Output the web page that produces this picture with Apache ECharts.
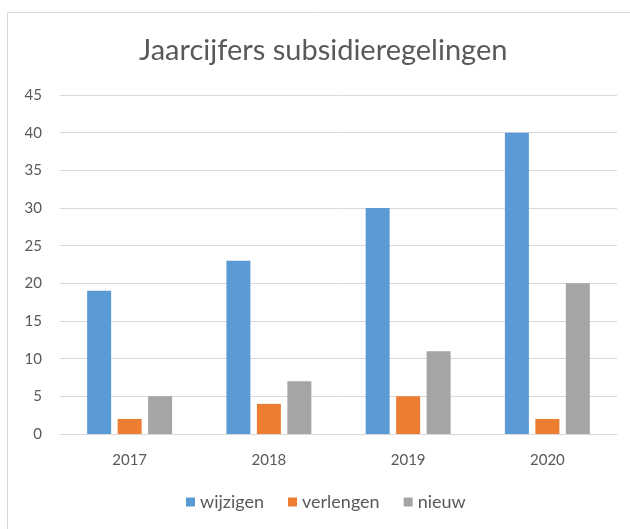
<!DOCTYPE html>
<html>
<head>
<meta charset="utf-8">
<script src="https://cdn.jsdelivr.net/npm/echarts@6/dist/echarts.min.js"></script>
<style>
  html, body { margin: 0; padding: 0; background: #fff; }
  #chart { width: 630px; height: 529px; }
</style>
</head>
<body>
<div id="chart"></div>
<script>
var years = ['2017', '2018', '2019', '2020'];
var wijzigen = [19, 23, 30, 40];
var verlengen = [2, 4, 5, 2];
var nieuw = [5, 7, 11, 20];
var seriesNames = ['wijzigen', 'verlengen', 'nieuw'];
var colors = ['#5b9bd5', '#ed7d31', '#a5a5a5'];

var chart = echarts.init(document.getElementById('chart'));
var textFont = 'Lato, sans-serif';

var option = {
  animation: false,
  color: colors,
  graphic: [{
    type: 'rect',
    shape: { x: 7.5, y: 12.5, width: 640, height: 540 },
    style: { fill: 'none', stroke: '#d9d9d9', lineWidth: 1 },
    z: -1
  }],
  title: {
    text: 'Jaarcijfers subsidieregelingen',
    left: 134,
    top: 31,
    textStyle: {
      fontFamily: textFont,
      fontWeight: 'normal',
      fontSize: 29,
      color: '#595959'
    }
  },
  legend: {
    data: seriesNames,
    bottom: 13,
    left: 181,
    itemWidth: 9,
    itemHeight: 9,
    itemGap: 24,
    icon: 'rect',
    textStyle: { fontFamily: textFont, fontSize: 18, color: '#595959' }
  },
  grid: { left: 60, right: 13, top: 95, bottom: 95, containLabel: false },
  xAxis: {
    type: 'category',
    data: years,
    axisLine: { lineStyle: { color: '#d9d9d9' } },
    axisTick: { show: false },
    axisLabel: { fontFamily: textFont, fontSize: 15, color: '#595959', margin: 19 }
  },
  yAxis: {
    type: 'value',
    min: 0,
    max: 45,
    interval: 5,
    axisLine: { show: false },
    axisTick: { show: false },
    splitLine: { lineStyle: { color: '#d9d9d9' } },
    axisLabel: { fontFamily: textFont, fontSize: 15, color: '#595959', margin: 18 }
  },
  series: [
    { name: seriesNames[0], type: 'bar', data: wijzigen, barWidth: 24, barGap: '27%' },
    { name: seriesNames[1], type: 'bar', data: verlengen, barWidth: 24, barGap: '27%' },
    { name: seriesNames[2], type: 'bar', data: nieuw, barWidth: 24, barGap: '27%' }
  ]
};
chart.setOption(option);
</script>
</body>
</html>
